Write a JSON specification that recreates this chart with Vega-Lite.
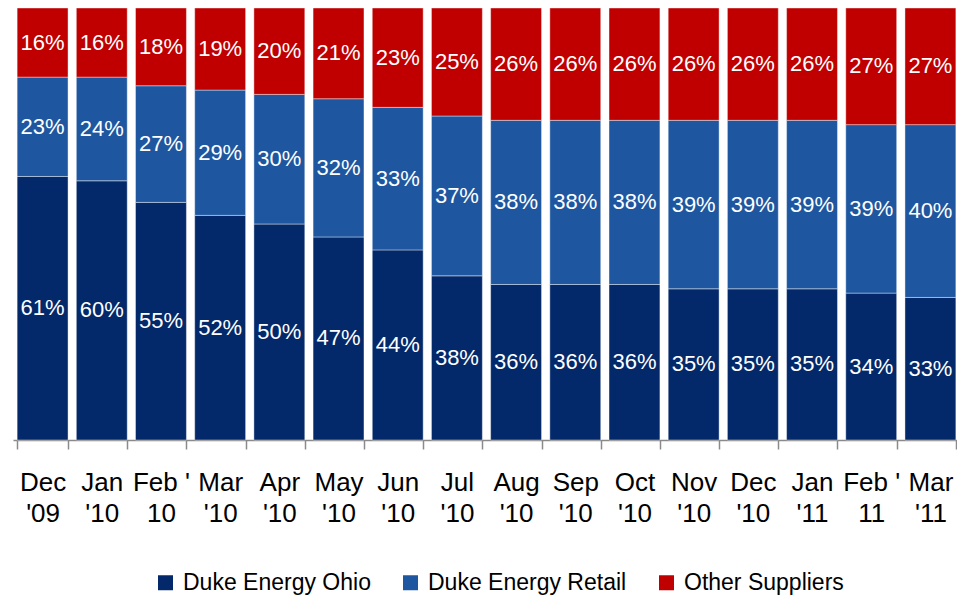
{
  "$schema": "https://vega.github.io/schema/vega-lite/v6.json",
  "width": 947,
  "height": 432,
  "autosize": {"type": "none"},
  "padding": {"left": 13, "top": 8, "right": 0, "bottom": 159},
  "config": {"view": {"stroke": null}, "font": "Liberation Sans Narrow, Liberation Sans, Arial Narrow, sans-serif"},
  "data": {
    "values": [
      {"month": "Dec|'09", "supplier": "Duke Energy Ohio", "value": 0.61},
      {"month": "Dec|'09", "supplier": "Duke Energy Retail", "value": 0.23},
      {"month": "Dec|'09", "supplier": "Other Suppliers", "value": 0.16},
      {"month": "Jan|'10", "supplier": "Duke Energy Ohio", "value": 0.60},
      {"month": "Jan|'10", "supplier": "Duke Energy Retail", "value": 0.24},
      {"month": "Jan|'10", "supplier": "Other Suppliers", "value": 0.16},
      {"month": "Feb '|10", "supplier": "Duke Energy Ohio", "value": 0.55},
      {"month": "Feb '|10", "supplier": "Duke Energy Retail", "value": 0.27},
      {"month": "Feb '|10", "supplier": "Other Suppliers", "value": 0.18},
      {"month": "Mar|'10", "supplier": "Duke Energy Ohio", "value": 0.52},
      {"month": "Mar|'10", "supplier": "Duke Energy Retail", "value": 0.29},
      {"month": "Mar|'10", "supplier": "Other Suppliers", "value": 0.19},
      {"month": "Apr|'10", "supplier": "Duke Energy Ohio", "value": 0.50},
      {"month": "Apr|'10", "supplier": "Duke Energy Retail", "value": 0.30},
      {"month": "Apr|'10", "supplier": "Other Suppliers", "value": 0.20},
      {"month": "May|'10", "supplier": "Duke Energy Ohio", "value": 0.47},
      {"month": "May|'10", "supplier": "Duke Energy Retail", "value": 0.32},
      {"month": "May|'10", "supplier": "Other Suppliers", "value": 0.21},
      {"month": "Jun|'10", "supplier": "Duke Energy Ohio", "value": 0.44},
      {"month": "Jun|'10", "supplier": "Duke Energy Retail", "value": 0.33},
      {"month": "Jun|'10", "supplier": "Other Suppliers", "value": 0.23},
      {"month": "Jul|'10", "supplier": "Duke Energy Ohio", "value": 0.38},
      {"month": "Jul|'10", "supplier": "Duke Energy Retail", "value": 0.37},
      {"month": "Jul|'10", "supplier": "Other Suppliers", "value": 0.25},
      {"month": "Aug|'10", "supplier": "Duke Energy Ohio", "value": 0.36},
      {"month": "Aug|'10", "supplier": "Duke Energy Retail", "value": 0.38},
      {"month": "Aug|'10", "supplier": "Other Suppliers", "value": 0.26},
      {"month": "Sep|'10", "supplier": "Duke Energy Ohio", "value": 0.36},
      {"month": "Sep|'10", "supplier": "Duke Energy Retail", "value": 0.38},
      {"month": "Sep|'10", "supplier": "Other Suppliers", "value": 0.26},
      {"month": "Oct|'10", "supplier": "Duke Energy Ohio", "value": 0.36},
      {"month": "Oct|'10", "supplier": "Duke Energy Retail", "value": 0.38},
      {"month": "Oct|'10", "supplier": "Other Suppliers", "value": 0.26},
      {"month": "Nov|'10", "supplier": "Duke Energy Ohio", "value": 0.35},
      {"month": "Nov|'10", "supplier": "Duke Energy Retail", "value": 0.39},
      {"month": "Nov|'10", "supplier": "Other Suppliers", "value": 0.26},
      {"month": "Dec|'10", "supplier": "Duke Energy Ohio", "value": 0.35},
      {"month": "Dec|'10", "supplier": "Duke Energy Retail", "value": 0.39},
      {"month": "Dec|'10", "supplier": "Other Suppliers", "value": 0.26},
      {"month": "Jan|'11", "supplier": "Duke Energy Ohio", "value": 0.35},
      {"month": "Jan|'11", "supplier": "Duke Energy Retail", "value": 0.39},
      {"month": "Jan|'11", "supplier": "Other Suppliers", "value": 0.26},
      {"month": "Feb '|11", "supplier": "Duke Energy Ohio", "value": 0.34},
      {"month": "Feb '|11", "supplier": "Duke Energy Retail", "value": 0.39},
      {"month": "Feb '|11", "supplier": "Other Suppliers", "value": 0.27},
      {"month": "Mar|'11", "supplier": "Duke Energy Ohio", "value": 0.33},
      {"month": "Mar|'11", "supplier": "Duke Energy Retail", "value": 0.40},
      {"month": "Mar|'11", "supplier": "Other Suppliers", "value": 0.27}
    ]
  },
  "transform": [
    {"stack": "value", "groupby": ["month"], "sort": [{"field": "supplier", "order": "ascending"}], "as": ["v0", "v1"]},
    {"calculate": "(datum.v0 + datum.v1) / 2", "as": "vmid"}
  ],
  "encoding": {
    "x": {
      "field": "month",
      "type": "nominal",
      "sort": null,
      "scale": {"paddingInner": 0.14, "paddingOuter": 0.07},
      "axis": {
        "title": null,
        "labelAngle": 0,
        "labelExpr": "isValid(datum.value) ? split(datum.value, '|') : ''",
        "labelFontSize": 26,
        "labelLineHeight": 31,
        "labelColor": "#000000",
        "labelPadding": 20,
        "labelOverlap": false,
        "labelBound": false,
        "labelLimit": 0,
        "tickBand": "extent",
        "tickSize": 9,
        "tickWidth": 1.5,
        "tickColor": "#8a8a8a",
        "domainColor": "#8a8a8a",
        "domainWidth": 1.5
      }
    }
  },
  "layer": [
    {
      "mark": {"type": "bar", "stroke": "#ffffff", "strokeOpacity": 0.4, "strokeWidth": 1},
      "encoding": {
        "y": {"field": "v0", "type": "quantitative", "scale": {"domain": [0, 1], "nice": false}, "axis": null},
        "y2": {"field": "v1"},
        "color": {
          "field": "supplier",
          "type": "nominal",
          "scale": {"domain": ["Duke Energy Ohio", "Duke Energy Retail", "Other Suppliers"], "range": ["#03296A", "#1E57A0", "#C00000"]},
          "legend": {
            "title": null,
            "orient": "none",
            "direction": "horizontal",
            "legendX": 141,
            "legendY": 563,
            "symbolType": "square",
            "symbolSize": 225,
            "symbolStrokeWidth": 0,
            "symbolOpacity": 1,
            "labelFontSize": 23,
            "labelColor": "#000000",
            "labelOffset": 6,
            "labelLimit": 0,
            "columnPadding": 28,
            "padding": 0
          }
        }
      }
    },
    {
      "mark": {"type": "text", "color": "#ffffff", "fontSize": 22, "baseline": "middle"},
      "encoding": {
        "y": {"field": "vmid", "type": "quantitative"},
        "text": {"field": "value", "type": "quantitative", "format": ".0%"}
      }
    }
  ]
}
